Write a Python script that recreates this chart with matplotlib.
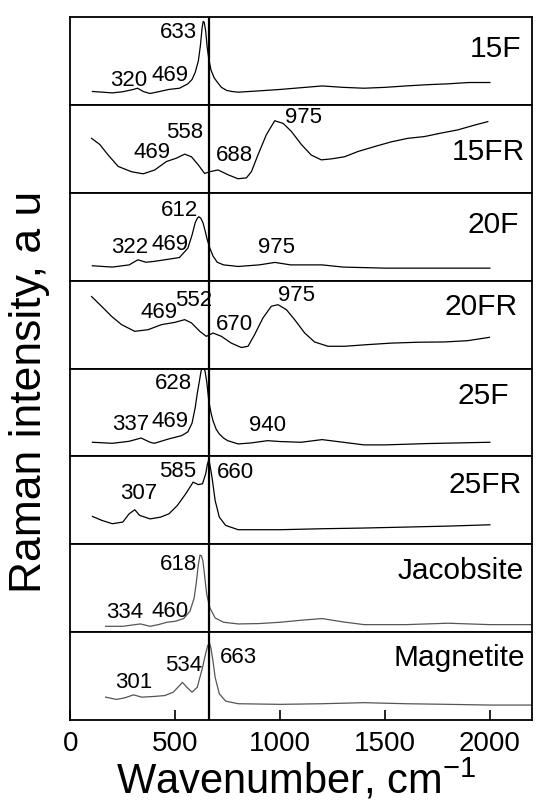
import matplotlib
matplotlib.use("Agg")
import matplotlib.pyplot as plt

plt.rcParams['font.family'] = ['Liberation Sans', 'DejaVu Sans']
plt.rcParams['mathtext.fontset'] = 'custom'
plt.rcParams['mathtext.rm'] = 'Liberation Sans'
plt.rcParams['mathtext.it'] = 'Liberation Sans'

# ---------------- data (y in % of panel height) ----------------
x_15F = [105, 200, 250, 300, 320, 350, 380, 420, 469, 520, 560, 580, 595, 610, 620, 628, 633, 638, 645, 652, 660, 670,
         685, 700, 720, 745, 770, 800, 900, 1000, 1100, 1200, 1300, 1400, 1500, 1600, 1700, 1800, 1900, 2000]
y_15F = [15.3, 13.7, 15, 17.6, 19, 15, 13, 15, 17.6, 19, 24, 29, 37, 50, 68, 88, 95, 94, 84, 66, 52, 40,
         31, 26, 20, 16.5, 15.3, 14.5, 16, 17.6, 19.6, 21.6, 20, 19, 20, 21.6, 23, 24, 25.5, 25.5]

x_15FR = [101, 140, 180, 228, 291, 347, 402, 458, 505, 545, 577, 609, 640, 664, 704, 752, 799, 839, 863, 894,
          934, 974, 1014, 1053, 1101, 1148, 1196, 1244, 1307, 1371, 1450, 1530, 1609, 1688, 1768, 1847, 1926, 1990]
y_15FR = [62, 55, 43, 30, 24, 21.6, 26, 35.6, 39.4, 44, 41, 32, 22, 24, 26, 20.5, 16, 17, 24, 43,
          66, 82, 79, 70, 55, 43, 37.5, 38.6, 41, 47, 52.6, 58, 62, 64, 68, 71.6, 77, 81]

x_20F = [105, 200, 280, 322, 360, 400, 469, 520, 560, 580, 595, 605, 612, 622, 632, 642, 652, 665, 680, 700,
         730, 800, 900, 975, 1050, 1200, 1300, 1500, 1700, 2000]
y_20F = [17, 15.5, 18, 23.8, 21, 22, 24.5, 26.4, 37, 52, 66, 71, 72.8, 71, 66, 57, 47, 37, 28, 21,
         18, 16.2, 18, 20.8, 18, 18, 15.5, 14.3, 14.3, 14.3]

x_20FR = [101, 148, 196, 244, 307, 371, 434, 498, 545, 577, 617, 648, 680, 720, 767, 815, 847, 878, 918, 958,
          990, 1030, 1069, 1117, 1164, 1228, 1307, 1418, 1530, 1657, 1783, 1895, 1998]
y_20FR = [82, 71, 59.5, 50, 42.4, 44.3, 50, 52.6, 55.7, 52, 42.4, 36.7, 40.5, 36.7, 29, 24, 25.4, 38.6, 57.6, 71,
          72.7, 67, 55.7, 40.5, 30.3, 25.4, 25.4, 27.3, 29, 30, 30.3, 31.8, 35.6]

x_25F = [105, 200, 280, 337, 380, 400, 469, 530, 560, 580, 595, 605, 615, 622, 628, 635, 642, 650, 660, 670,
         680, 695, 710, 730, 750, 800, 860, 940, 1000, 1100, 1200, 1300, 1400, 1500, 1700, 2000]
y_25F = [16.2, 15, 17.3, 21, 16.2, 15, 20, 23.7, 28, 38, 55.6, 72, 85.7, 96, 101, 101, 97, 85, 63, 50,
         40.6, 31, 25.6, 21, 18, 14.3, 15.4, 18, 17, 16.2, 19.2, 16.2, 13.2, 13.2, 14.7, 16.2]

x_25FR = [105, 150, 200, 250, 280, 307, 330, 380, 430, 470, 510, 550, 585, 610, 630, 645, 653, 660, 667, 675,
          690, 710, 740, 800, 900, 1000, 1200, 1400, 1600, 1800, 2000]
y_25FR = [31.8, 27.3, 23.5, 25.4, 34.8, 39.4, 33, 29, 31, 34.8, 44.3, 57.6, 70.8, 68, 69, 80.3, 91, 96.6, 88, 76.5,
          50, 31, 21.6, 16.7, 16.7, 16.7, 17.8, 18.6, 19.7, 20.8, 22.3]

x_jac = [168, 250, 334, 380, 420, 460, 500, 540, 570, 590, 600, 610, 618, 625, 632, 640, 650, 665, 690, 730,
         800, 900, 1000, 1100, 1200, 1300, 1400, 1600, 1800, 2000, 2200]
y_jac = [6.8, 6.8, 9.5, 6.8, 8.7, 11.4, 12.5, 15.6, 24, 39, 56, 77, 87.8, 87, 81, 64, 43, 27.8, 16.3, 11.4,
         9.5, 9.9, 11.4, 13.7, 15.6, 11.8, 8.7, 8.7, 10.3, 8.7, 8.7]

x_mag = [168, 220, 260, 301, 340, 400, 450, 490, 520, 534, 555, 580, 605, 630, 645, 655, 663, 670, 680, 690,
         710, 740, 800, 1000, 1200, 1400, 1600, 1800, 2000, 2200]
y_mag = [26.2, 23.6, 25.5, 28.8, 26.2, 27, 28, 31.8, 39.3, 43, 37.5, 31.8, 37.5, 60, 76, 85, 88, 82, 67, 48.7,
         30, 21.7, 18.7, 18, 18.7, 19.9, 18.7, 18, 17.2, 17.2]

sample_names = ["15F", "15FR", "20F", "20FR", "25F", "25FR", "Jacobsite", "Magnetite"]
series_x = [x_15F, x_15FR, x_20F, x_20FR, x_25F, x_25FR, x_jac, x_mag]
series_y = [y_15F, y_15FR, y_20F, y_20FR, y_25F, y_25FR, y_jac, y_mag]
line_colors = ["black"] * 6 + ["#555555", "#555555"]

# peak annotations per panel: (text, x, y%)
peak_labels = [
    [("633", 513, 82), ("320", 276, 27.5), ("469", 474, 34)],
    [("975", 1109, 86), ("558", 545, 69), ("469", 388, 46), ("688", 783, 42)],
    [("612", 521, 80), ("322", 283, 37.7), ("469", 474, 40.8), ("975", 982, 37.7)],
    [("975", 1077, 83), ("552", 588, 77), ("469", 421, 63.5), ("670", 783, 50)],
    [("628", 490, 82.7), ("337", 288, 36.8), ("469", 474, 40), ("940", 942, 35)],
    [("585", 509, 83.3), ("307", 326, 57.6), ("660", 788, 82)],
    [("618", 513, 77), ("334", 260, 22), ("460", 474, 24)],
    [("663", 799, 71), ("534", 540, 62), ("301", 302, 43)],
]
name_y = [63.5, 47, 63.4, 70, 68.8, 67, 70, 71]
name_x = [2150, 2168, 2140, 2130, 2090, 2150, 2160, 2168]

ref_line = 662
x_ticks = [0, 500, 1000, 1500, 2000]

# ---------------- figure ----------------
fig = plt.figure(figsize=(5.5, 8.11), dpi=100)
axes = fig.subplots(len(sample_names), 1, sharex=True, gridspec_kw=dict(hspace=0))
fig.subplots_adjust(left=0.128, right=0.967, top=0.979, bottom=0.112)

for i, ax in enumerate(axes):
    ax.plot(series_x[i], series_y[i], color=line_colors[i], lw=0.9)
    ax.axvline(ref_line, color="black", lw=1.6)
    ax.set_ylim(0, 100)
    ax.set_xlim(0, 2200)
    ax.set_yticks([])
    for s in ax.spines.values():
        s.set_linewidth(1.3)
    for t, xx, yy in peak_labels[i]:
        ax.text(xx, yy, t, ha="center", va="center", fontsize=16)
    ax.text(name_x[i], name_y[i], sample_names[i], ha="right", va="center", fontsize=21.5)
    ax.tick_params(axis="x", direction="in", length=7, width=1.2, labelsize=20, pad=8)
    if i < len(axes) - 1:
        ax.tick_params(axis="x", bottom=False, labelbottom=False)

axes[-1].set_xticks(x_ticks)
fig.text(0.053, 0.517, "Raman intensity, a u", rotation=90, ha="center", va="center", fontsize=32)
fig.text(0.539, 0.021, "Wavenumber, cm$^{-1}$", ha="center", va="baseline", fontsize=30)

fig.savefig("out.png", dpi=100)
